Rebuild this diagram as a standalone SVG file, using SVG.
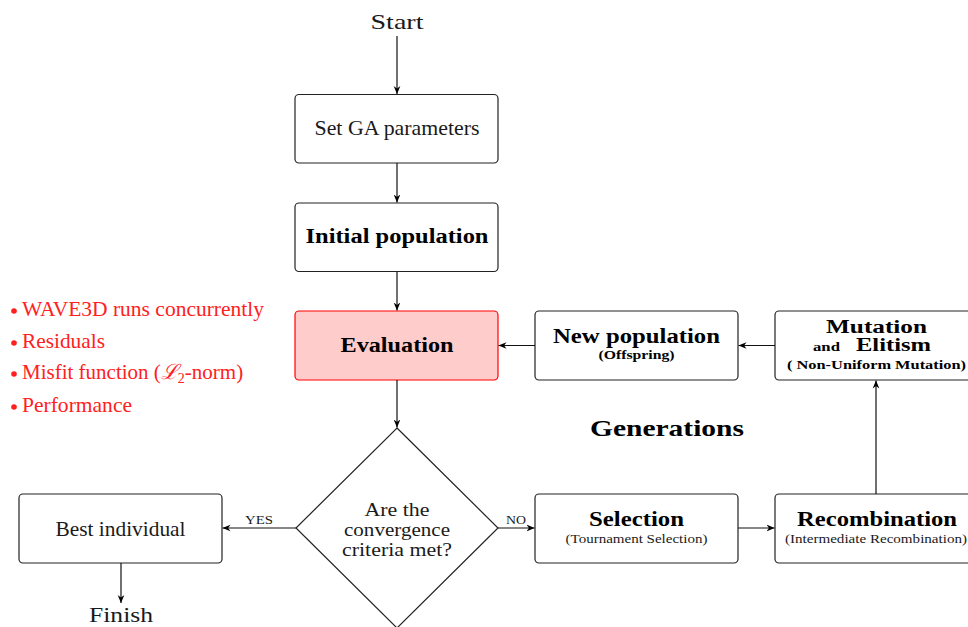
<svg xmlns="http://www.w3.org/2000/svg" width="968" height="627" viewBox="0 0 968 627">
<style>
text{font-family:"Liberation Serif","Times New Roman",serif;text-anchor:middle;fill:#1a1a1a}
.b{font-weight:bold;fill:#000}
.box{fill:#fff;stroke:#222;stroke-width:1.2}
.red{fill:#ff2020;text-anchor:start}
.con{stroke:#111;stroke-width:1.2;fill:none;marker-end:url(#arr)}
</style>
<defs>
<marker id="arr" viewBox="0 0 10 10" refX="10" refY="5" markerWidth="8" markerHeight="8" orient="auto" markerUnits="userSpaceOnUse">
<path d="M0,0.8 L10,5 L0,9.2 L3,5 Z" fill="#000"/>
</marker>
</defs>
<rect width="968" height="627" fill="#fff"/>

<g id="start"><text x="397" y="29" font-size="22" textLength="53" lengthAdjust="spacingAndGlyphs">Start</text></g>

<g id="setga">
<rect class="box" x="295" y="94.5" width="203" height="68.5" rx="4"/>
<text x="397" y="135" font-size="22" textLength="165" lengthAdjust="spacingAndGlyphs">Set GA parameters</text>
</g>

<g id="initpop">
<rect class="box" x="295" y="203" width="203" height="68.5" rx="4"/>
<text class="b" x="397" y="243" font-size="20" textLength="183" lengthAdjust="spacingAndGlyphs">Initial population</text>
</g>

<g id="evaluation">
<rect x="295" y="311" width="203" height="69" rx="4" fill="#ffcccc" stroke="#ff0000" stroke-width="1.2"/>
<text class="b" x="397" y="352" font-size="20" textLength="113" lengthAdjust="spacingAndGlyphs">Evaluation</text>
</g>

<g id="notes">
<circle cx="14" cy="311" r="2.8" fill="#ff2020"/>
<text class="red" x="22" y="316" font-size="21" textLength="242" lengthAdjust="spacingAndGlyphs">WAVE3D runs concurrently</text>
<circle cx="14" cy="343" r="2.8" fill="#ff2020"/>
<text class="red" x="22" y="348" font-size="21" textLength="83" lengthAdjust="spacingAndGlyphs">Residuals</text>
<circle cx="14" cy="374" r="2.8" fill="#ff2020"/>
<text class="red" x="22" y="379" font-size="21">Misfit function (<tspan font-style="italic">ℒ</tspan><tspan font-size="14" dy="4">2</tspan><tspan dy="-4">-norm)</tspan></text>
<circle cx="14" cy="407" r="2.8" fill="#ff2020"/>
<text class="red" x="22" y="412" font-size="21" textLength="110" lengthAdjust="spacingAndGlyphs">Performance</text>
</g>

<g id="newpop">
<rect class="box" x="535" y="311" width="203" height="69" rx="4"/>
<text class="b" x="636.5" y="343" font-size="20" textLength="167" lengthAdjust="spacingAndGlyphs">New population</text>
<text class="b" x="636.5" y="359" font-size="12" textLength="76" lengthAdjust="spacingAndGlyphs">(Offspring)</text>
</g>

<g id="mutation">
<rect class="box" x="775" y="311" width="203" height="69" rx="4"/>
<text class="b" x="876.5" y="333" font-size="18.5" textLength="101" lengthAdjust="spacingAndGlyphs">Mutation</text>
<text class="b" x="826.5" y="351" font-size="12" textLength="27" lengthAdjust="spacingAndGlyphs">and</text>
<text class="b" x="893.5" y="351" font-size="18.5" textLength="75" lengthAdjust="spacingAndGlyphs">Elitism</text>
<text class="b" x="876.5" y="369" font-size="12" textLength="179" lengthAdjust="spacingAndGlyphs">( Non-Uniform Mutation)</text>
</g>

<g id="generations"><text class="b" x="667" y="436" font-size="23" textLength="154" lengthAdjust="spacingAndGlyphs">Generations</text></g>

<g id="decision">
<polygon points="397,428 498,528 397,628 296,528" fill="#fff" stroke="#222" stroke-width="1.2"/>
<text x="397" y="516" font-size="18" textLength="65" lengthAdjust="spacingAndGlyphs">Are the</text>
<text x="397" y="536" font-size="18" textLength="106" lengthAdjust="spacingAndGlyphs">convergence</text>
<text x="397" y="556" font-size="18" textLength="110" lengthAdjust="spacingAndGlyphs">criteria met?</text>
</g>

<g id="best">
<rect class="box" x="19" y="494" width="203" height="69" rx="4"/>
<text x="120.5" y="536" font-size="21.5" textLength="130" lengthAdjust="spacingAndGlyphs">Best individual</text>
</g>

<g id="finish"><text x="121" y="622" font-size="22" textLength="64" lengthAdjust="spacingAndGlyphs">Finish</text></g>

<g id="selection">
<rect class="box" x="535" y="494" width="203" height="69" rx="4"/>
<text class="b" x="636.5" y="526" font-size="20" textLength="95" lengthAdjust="spacingAndGlyphs">Selection</text>
<text x="636.5" y="543" font-size="13" textLength="142" lengthAdjust="spacingAndGlyphs">(Tournament Selection)</text>
</g>

<g id="recombination">
<rect class="box" x="775" y="494" width="203" height="69" rx="4"/>
<text class="b" x="877" y="526" font-size="20" textLength="160" lengthAdjust="spacingAndGlyphs">Recombination</text>
<text x="876" y="543" font-size="13" textLength="182" lengthAdjust="spacingAndGlyphs">(Intermediate Recombination)</text>
</g>

<g id="connectors">
<line class="con" x1="397" y1="36" x2="397" y2="94"/>
<line class="con" x1="397" y1="163" x2="397" y2="202.5"/>
<line class="con" x1="397" y1="271.5" x2="397" y2="310.5"/>
<line class="con" x1="397" y1="380" x2="397" y2="427.5"/>
<line class="con" x1="296" y1="528" x2="222.5" y2="528"/>
<line class="con" x1="498" y1="528" x2="534.5" y2="528"/>
<line class="con" x1="738" y1="528" x2="774.5" y2="528"/>
<line class="con" x1="876" y1="494" x2="876" y2="380.5"/>
<line class="con" x1="775" y1="345.5" x2="738.5" y2="345.5"/>
<line class="con" x1="535" y1="345.5" x2="498.5" y2="345.5"/>
<line class="con" x1="121" y1="563" x2="121" y2="603"/>
<text x="259" y="524" font-size="12" textLength="28" lengthAdjust="spacingAndGlyphs">YES</text>
<text x="516" y="524" font-size="12" textLength="20" lengthAdjust="spacingAndGlyphs">NO</text>
</g>
</svg>
